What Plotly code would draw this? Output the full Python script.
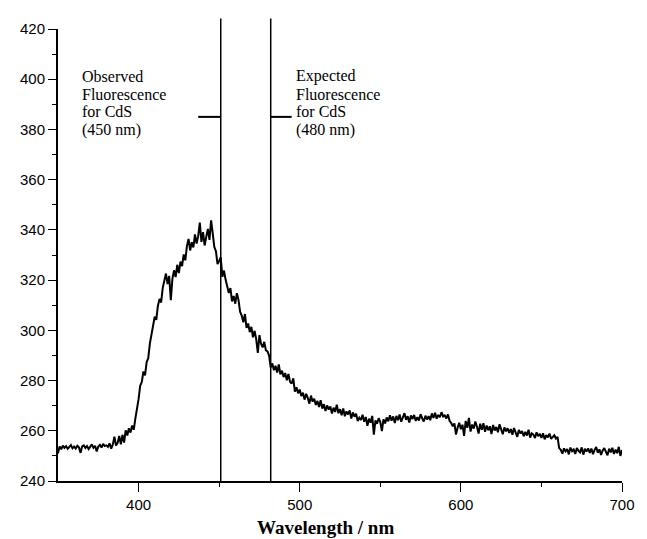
import plotly.graph_objects as go

# ---- data ----
wavelength_start = 350
wavelength_end = 700

counts_350_399 = [
    251.0, 253.8, 252.6, 254.1, 253.2, 253.9, 252.8, 253.6, 254.3, 253.0,
    253.7, 252.9, 254.0, 253.4, 251.2, 253.8, 254.2, 253.1, 253.9, 252.7,
    253.5, 254.6, 253.2, 254.0, 251.8, 253.7, 254.4, 253.3, 254.8, 253.9,
    254.2, 253.6, 255.0, 252.9, 254.5, 257.6, 254.1, 255.2, 257.9, 254.6,
    258.4, 255.3, 260.2, 258.1, 261.0, 259.3, 262.1, 260.4, 264.8, 268.5,
]
counts_400_449 = [
    272.6, 277.9, 279.4, 283.6, 282.1, 287.3, 288.9, 294.7, 298.6, 301.2,
    305.4, 304.2, 309.8, 312.5, 311.1, 316.9, 319.8, 322.6, 318.4, 321.7,
    312.0, 320.5, 323.9, 321.2, 326.1, 322.8, 327.4, 325.6, 330.2, 327.9,
    333.5, 336.4, 331.8, 335.1, 333.0, 338.2, 334.6, 337.5, 342.9, 335.2,
    339.1, 333.8, 337.2, 340.4, 336.0, 343.8, 338.7, 333.2, 331.5, 326.4,
]
counts_450_499 = [
    327.6, 329.1, 321.3, 323.8, 320.2, 317.6, 314.9, 316.8, 311.5, 313.7,
    310.6, 314.8, 312.1, 307.4, 305.9, 303.2, 306.5, 301.0, 302.7, 299.3,
    301.4, 297.2, 299.8, 296.5, 291.0, 298.1, 294.7, 293.2, 295.4, 292.1,
    291.6, 289.9, 285.2, 286.8, 284.1, 285.9, 283.2, 286.4, 282.5, 283.9,
    281.4, 283.0, 280.1, 282.6, 279.5, 278.8, 280.9, 275.6, 277.3, 274.9,
]
counts_500_549 = [
    276.4, 273.8, 275.2, 272.4, 274.7, 273.1, 270.8, 274.0, 271.6, 272.8,
    270.3, 271.9, 269.5, 272.2, 268.8, 270.6, 267.9, 270.1, 268.4, 269.7,
    266.9, 269.2, 267.5, 270.4, 267.0, 268.6, 266.2, 268.9, 265.8, 267.7,
    266.5, 268.1, 264.9, 267.3, 265.6, 266.8, 263.9, 265.2, 264.3, 266.4,
    263.6, 265.5, 262.0, 264.8, 263.2, 265.9, 258.5, 264.1, 262.8, 265.0,
]
counts_550_599 = [
    263.5, 259.9, 264.6, 262.9, 265.3, 263.8, 266.2, 264.0, 265.7, 263.1,
    265.9, 264.2, 266.5, 263.6, 265.1, 267.0, 264.4, 265.8, 263.3, 266.1,
    264.7, 266.3, 263.9, 265.4, 264.1, 266.6, 265.0, 263.7, 266.0, 264.5,
    265.8, 264.2, 266.9, 265.1, 267.2, 264.8, 266.3, 265.4, 267.4, 265.7,
    266.1, 264.9, 266.5, 264.0, 263.1, 261.8, 262.9, 258.5, 261.3, 263.2,
]
counts_600_649 = [
    260.6, 262.4, 258.0, 263.9, 261.2, 265.1, 259.7, 262.5, 260.9, 263.7,
    261.6, 258.9, 262.8, 260.4, 263.0, 259.6, 262.1, 260.2, 261.8, 258.7,
    262.3, 260.1, 261.5, 259.4, 262.6, 260.0, 258.6, 261.3, 259.8, 261.0,
    259.2, 260.7, 258.4, 261.1, 259.5, 257.6, 260.3, 258.9, 259.9, 257.8,
    259.6, 258.1, 260.4, 257.3, 259.0, 258.5, 257.1, 259.4, 257.9, 258.8,
]
counts_650_700 = [
    257.2, 259.0, 256.6, 258.3, 257.4, 258.9, 256.8, 257.7, 258.2, 256.9,
    257.6, 253.1, 252.4, 250.9, 253.0, 251.8, 252.7, 250.6, 253.3, 251.9,
    252.6, 250.8, 253.1, 252.0, 251.4, 253.4, 250.5, 252.8, 251.7, 253.0,
    251.2, 252.9, 250.7, 252.4, 253.5, 251.3, 252.6, 250.4, 252.2, 253.1,
    251.6, 250.2, 252.9, 251.4, 253.2, 250.8, 252.5, 251.1, 253.6, 250.0,
    252.3,
]

marker_lines_nm = [451, 482]          # drawn positions of the 450 / 480 nm markers
label_observed = ["Observed", "Fluorescence", "for CdS", "(450 nm)"]
label_expected = ["Expected", "Fluorescence", "for CdS", "(480 nm)"]

x_tickvals = [400, 500, 600, 700]
x_minor = [450, 550, 650]
y_tickvals = list(range(240, 421, 20))
y_minor = list(range(250, 420, 20))

intensity = (counts_350_399 + counts_400_449 + counts_450_499 + counts_500_549
             + counts_550_599 + counts_600_649 + counts_650_700)
wavelength = list(range(wavelength_start, wavelength_end + 1))

# ---- figure ----
fig = go.Figure()
fig.add_trace(go.Scatter(
    x=wavelength, y=intensity, mode="lines",
    line=dict(color="black", width=2), showlegend=False, hoverinfo="skip",
))

shapes = []
for xv in marker_lines_nm:
    shapes.append(dict(type="line", xref="x", yref="paper", x0=xv, x1=xv,
                       y0=0, y1=1.023, line=dict(color="black", width=1.5)))
# short leader ticks next to the labels
shapes.append(dict(type="line", xref="x", yref="y", x0=437, x1=marker_lines_nm[0],
                   y0=385, y1=385, line=dict(color="black", width=2)))
shapes.append(dict(type="line", xref="x", yref="y", x0=marker_lines_nm[1], x1=495,
                   y0=385, y1=385, line=dict(color="black", width=2)))

annotations = []
line_y = [401.2, 394.1, 387.0, 379.9]
serif = "Liberation Serif, Times New Roman, serif"
for txt, yv in zip(label_observed, line_y):
    annotations.append(dict(x=364, y=yv, xref="x", yref="y", text=txt, showarrow=False,
                            xanchor="left", yanchor="middle", borderpad=0,
                            font=dict(family=serif, size=16, color="black")))
for txt, yv in zip(label_expected, line_y):
    annotations.append(dict(x=497, y=yv, xref="x", yref="y", text=txt, showarrow=False,
                            xanchor="left", yanchor="middle", borderpad=0,
                            font=dict(family=serif, size=16, color="black")))
annotations.append(dict(x=0.475, y=-0.102, xref="paper", yref="paper",
                        text="<b>Wavelength / nm</b>", showarrow=False,
                        xanchor="center", yanchor="middle",
                        font=dict(family=serif, size=19, color="black")))

tickfont = dict(family="Liberation Sans, Arial, sans-serif", size=15, color="black")

# page body has an 8px margin, so the figure is sized/placed to compensate
fig.update_layout(
    width=639, height=531,
    margin=dict(l=44, r=12, t=15, b=58),
    paper_bgcolor="white", plot_bgcolor="white",
    shapes=shapes, annotations=annotations,
    xaxis=dict(range=[350, 700], showgrid=False, zeroline=False,
               showline=True, linecolor="black", linewidth=2,
               tickmode="array", tickvals=x_tickvals,
               ticks="outside", ticklen=9, tickwidth=1.2, tickcolor="black",
               tickfont=tickfont, ticklabeloverflow="allow",
               minor=dict(tickmode="array", tickvals=x_minor, ticks="outside",
                          ticklen=4, tickwidth=1, tickcolor="black", showgrid=False)),
    yaxis=dict(range=[240, 420], showgrid=False, zeroline=False,
               showline=True, linecolor="black", linewidth=2,
               tickmode="array", tickvals=y_tickvals,
               ticks="outside", ticklen=8, tickwidth=1.2, tickcolor="black",
               tickfont=tickfont,
               minor=dict(tickmode="array", tickvals=y_minor, ticks="outside",
                          ticklen=4, tickwidth=1, tickcolor="black", showgrid=False)),
)

fig.write_html("out.html")
